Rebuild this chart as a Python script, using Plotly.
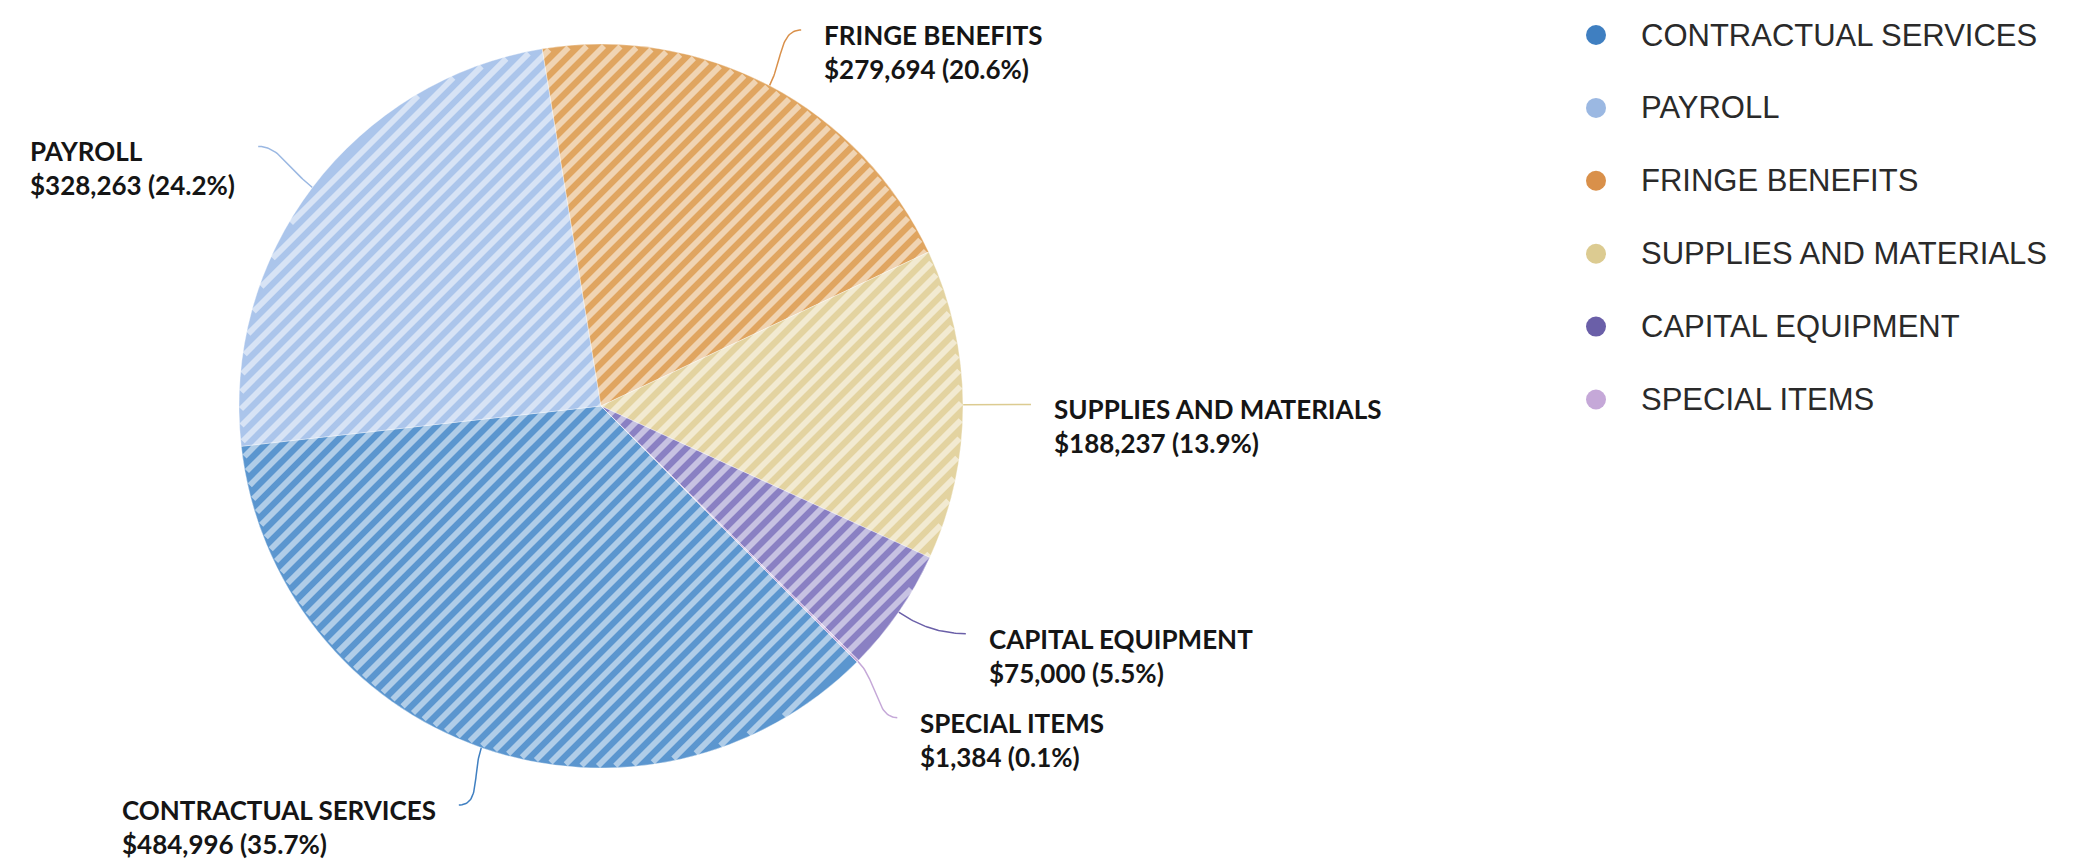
import numpy as np
import plotly.graph_objects as go

# Budget categories and amounts
categories = ["CONTRACTUAL SERVICES", "PAYROLL", "FRINGE BENEFITS",
              "SUPPLIES AND MATERIALS", "CAPITAL EQUIPMENT", "SPECIAL ITEMS"]
amounts = [484996, 328263, 279694, 188237, 75000, 1384]

# Slice fills, legend/leader colours
slice_colors = ["#5b96cf", "#abc5eb", "#e0a560", "#e3d3a0", "#8a80c3", "#c8aedb"]
key_colors = ["#3f7fc1", "#9bb8e2", "#d9904a", "#dccb91", "#6a5fa8", "#c5a8d8"]

W, H = 2078, 861
CX, CY, R = 601, 406, 362          # pie centre and radius, px
ROTATION = 135                      # first slice start, degrees clockwise from 12 o'clock
TICK_R = R + 68                     # where leader lines end
LABEL_GAP = 21
MIN_LABEL_SPACING = 84
LABEL_Y_MIN, LABEL_Y_MAX = 30, 805
LABEL_FONT = 26
STRIPE_PERIOD = 17                  # horizontal spacing of the diagonal hatching
STRIPE_WIDTH = 5.8

total = sum(amounts)
shares = [a / total for a in amounts]

fig = go.Figure()

fig.add_trace(go.Pie(
    labels=categories,
    values=amounts,
    sort=False,
    direction="clockwise",
    rotation=ROTATION,
    textinfo="none",
    hoverinfo="label+value+percent",
    showlegend=False,
    marker=dict(colors=slice_colors,
                line=dict(color="rgba(255,255,255,0.45)", width=0.8)),
    domain=dict(x=[(CX - R) / W, (CX + R) / W],
                y=[1 - (CY + R) / H, 1 - (CY - R) / H]),
))

# Diagonal hatching across the pie, clipped to its circle
r_in = R - 2
segs = []
c0 = CX + CY
k_max = int(np.ceil(np.sqrt(2) * r_in / STRIPE_PERIOD)) + 1
for k in range(-k_max, k_max + 1):
    c = c0 + k * STRIPE_PERIOD
    d = (c - c0) / np.sqrt(2)
    if abs(d) >= r_in:
        continue
    fx, fy = CX + d / np.sqrt(2), CY + d / np.sqrt(2)
    h = np.sqrt(r_in ** 2 - d ** 2) / np.sqrt(2)
    segs.append(f"M{fx - h:.2f},{fy + h:.2f}L{fx + h:.2f},{fy - h:.2f}")
fig.add_shape(type="path", path="".join(segs), xref="x", yref="y",
              line=dict(color="rgba(255,255,255,0.52)", width=STRIPE_WIDTH),
              layer="above")

# Mid-angle of every slice (clockwise from 12 o'clock)
cum = np.cumsum([0] + shares)
mid_deg = [ROTATION + 360 * (cum[i] + cum[i + 1]) / 2 for i in range(len(amounts))]
dirs = [(np.sin(np.radians(a)), -np.cos(np.radians(a))) for a in mid_deg]

# Leader line end points, spread apart where labels would collide
ends = [[CX + TICK_R * dx, CY + TICK_R * dy, 1 if dx > 0 else -1] for dx, dy in dirs]
for side in (1, -1):
    idx = sorted([i for i, e in enumerate(ends) if e[2] == side], key=lambda i: ends[i][1])
    for k in range(len(idx) - 1, 0, -1):
        lo, up = idx[k], idx[k - 1]
        deficit = MIN_LABEL_SPACING - (ends[lo][1] - ends[up][1])
        if deficit > 0:
            ends[up][1] -= deficit * 2 / 3
            ends[lo][1] += deficit / 3
            for j in (up, lo):
                off = ends[j][1] - CY
                ends[j][0] = CX + side * np.sqrt(TICK_R ** 2 - off ** 2)
for e in ends:
    e[1] = min(max(e[1], LABEL_Y_MIN), LABEL_Y_MAX)

t = np.linspace(0, 1, 40)[:, None]
line_h = 1.3 * LABEL_FONT
for i, (dx, dy) in enumerate(dirs):
    p0 = np.array([CX + R * dx, CY + R * dy])
    p3 = np.array(ends[i][:2])
    side = ends[i][2]
    p1 = p0 + 28 * np.array([dx, dy])
    p2 = p3 - np.array([side * 22, 0])
    curve = ((1 - t) ** 3) * p0 + 3 * ((1 - t) ** 2) * t * p1 + 3 * (1 - t) * t ** 2 * p2 + t ** 3 * p3
    fig.add_trace(go.Scatter(
        x=curve[:, 0], y=curve[:, 1], mode="lines",
        line=dict(color=key_colors[i], width=1.5),
        hoverinfo="skip", showlegend=False,
    ))
    fig.add_annotation(
        x=p3[0] + side * LABEL_GAP, y=p3[1] + 5 + line_h / 2,
        xref="x", yref="y",
        text=f"<b>{categories[i]}</b><br><b>${amounts[i]:,} ({100 * shares[i]:.1f}%)</b>",
        showarrow=False, align="left",
        xanchor="left" if side > 0 else "right", yanchor="middle",
        font=dict(family="Lato", size=LABEL_FONT, color="#151515"),
    )

# Key on the right
KEY_X, KEY_Y0, KEY_STEP = 1596, 35, 72.9
key_y = [KEY_Y0 + KEY_STEP * i for i in range(len(categories))]
fig.add_trace(go.Scatter(
    x=[KEY_X] * len(categories), y=key_y, mode="markers",
    marker=dict(size=20, color=key_colors), hoverinfo="skip", showlegend=False,
))
for name, y in zip(categories, key_y):
    fig.add_annotation(
        x=KEY_X + 43, y=y, xref="x", yref="y", text=name, showarrow=False,
        xanchor="left", yanchor="middle",
        font=dict(family="Liberation Sans", size=31, color="#2a2a2a"),
    )

fig.update_layout(
    width=W, height=H,
    margin=dict(l=0, r=0, t=0, b=0),
    paper_bgcolor="white", plot_bgcolor="rgba(0,0,0,0)",
    xaxis=dict(range=[0, W], visible=False, fixedrange=True),
    yaxis=dict(range=[H, 0], visible=False, fixedrange=True),
    showlegend=False,
)

fig.write_html("out.html")
